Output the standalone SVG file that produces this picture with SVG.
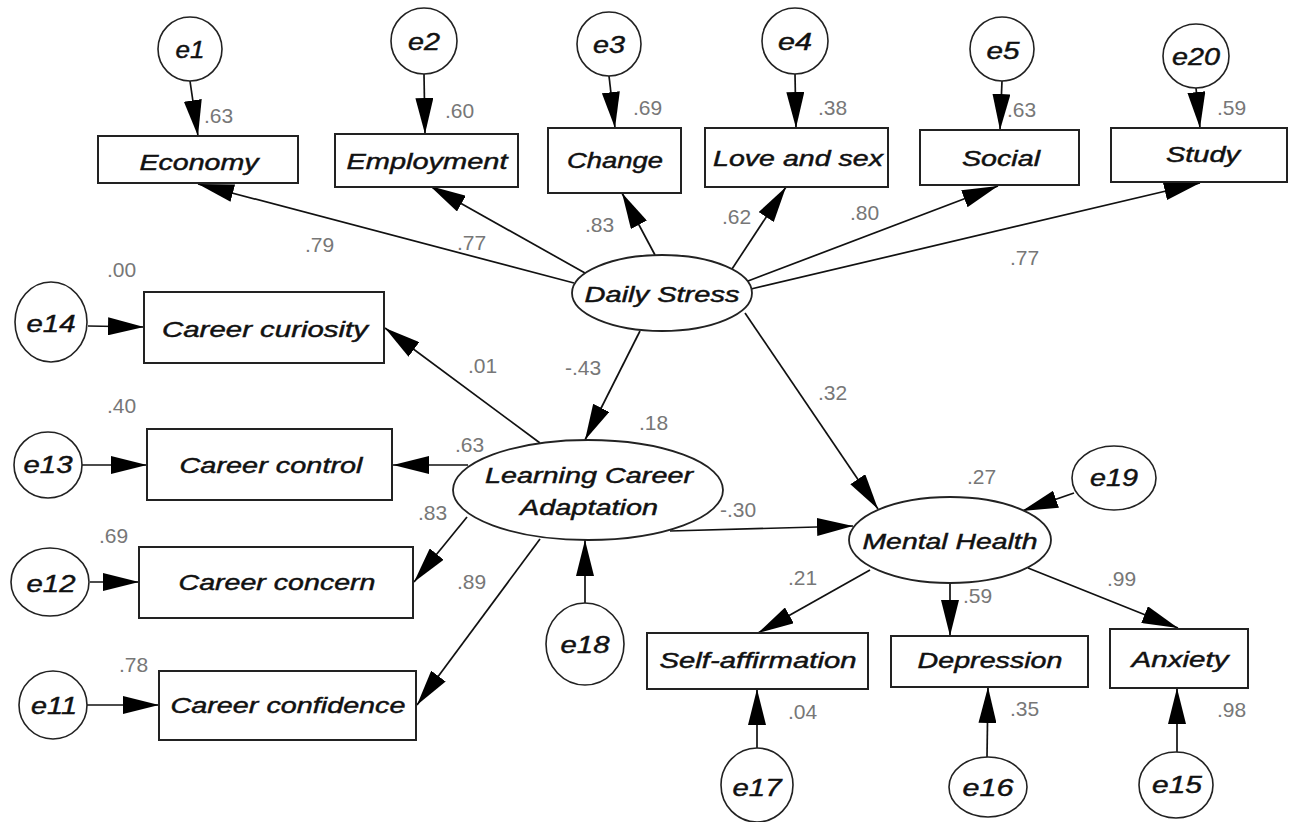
<svg xmlns="http://www.w3.org/2000/svg" width="1292" height="822" viewBox="0 0 1292 822">
<style>
.box{fill:#fff;stroke:#222;stroke-width:2}
.lat{fill:#fff;stroke:#222;stroke-width:1.8}
.err{fill:#fff;stroke:#222;stroke-width:1.6}
.lbl{font-family:"Liberation Sans",Arial,sans-serif;font-style:italic;font-size:22px;fill:#111;stroke:#111;stroke-width:0.45;text-anchor:middle}
.elbl{font-family:"Liberation Sans",Arial,sans-serif;font-style:italic;font-size:24px;fill:#111;stroke:#111;stroke-width:0.45;text-anchor:middle}
.num{font-family:"Liberation Sans",Arial,sans-serif;font-size:21px;fill:#777}
.con line{stroke:#111;stroke-width:1.7;marker-end:url(#ah)}
</style>
<defs>
<marker id="ah" markerUnits="userSpaceOnUse" markerWidth="36" markerHeight="18" refX="36" refY="9" orient="auto">
<path d="M0,0 L36,9 L0,18 Z" fill="#000"/>
</marker>
</defs>
<rect width="1292" height="822" fill="#fff"/>

<g id="connectors" class="con">
<line x1="190" y1="81" x2="198" y2="136"/>
<line x1="424" y1="74" x2="425" y2="134"/>
<line x1="609" y1="76" x2="615" y2="128"/>
<line x1="795" y1="74" x2="796" y2="128"/>
<line x1="1002" y1="81" x2="1000" y2="130"/>
<line x1="1196" y1="88" x2="1200" y2="128"/>
<line x1="574" y1="283" x2="198" y2="184"/>
<line x1="585" y1="273" x2="430" y2="186"/>
<line x1="655" y1="255" x2="622" y2="193"/>
<line x1="732" y1="269" x2="786" y2="187"/>
<line x1="748" y1="281" x2="998" y2="186"/>
<line x1="751" y1="289" x2="1200" y2="183"/>
<line x1="640" y1="331" x2="585" y2="440"/>
<line x1="745" y1="313" x2="878" y2="509"/>
<line x1="540" y1="443" x2="385" y2="328"/>
<line x1="468" y1="465" x2="393" y2="465"/>
<line x1="467" y1="517" x2="414" y2="582"/>
<line x1="540" y1="539" x2="417" y2="705"/>
<line x1="585" y1="603" x2="585" y2="540"/>
<line x1="670" y1="531" x2="853" y2="526"/>
<line x1="1074" y1="493" x2="1022" y2="511"/>
<line x1="870" y1="570" x2="758" y2="633"/>
<line x1="950" y1="583" x2="950" y2="636"/>
<line x1="1028" y1="568" x2="1178" y2="628"/>
<line x1="757" y1="748" x2="757" y2="689"/>
<line x1="987" y1="757" x2="988" y2="687"/>
<line x1="1177" y1="752" x2="1177" y2="688"/>
<line x1="88" y1="326" x2="144" y2="327"/>
<line x1="82" y1="465" x2="147" y2="465"/>
<line x1="90" y1="582" x2="139" y2="582"/>
<line x1="87" y1="705" x2="159" y2="705"/>
</g>

<g id="economy"><rect class="box" x="98" y="136" width="200" height="47"/><text class="lbl" x="199" y="170" textLength="119" lengthAdjust="spacingAndGlyphs">Economy</text></g>
<g id="employment"><rect class="box" x="335" y="134" width="183" height="53"/><text class="lbl" x="427" y="169" textLength="161" lengthAdjust="spacingAndGlyphs">Employment</text></g>
<g id="change"><rect class="box" x="548" y="128" width="133" height="65"/><text class="lbl" x="615" y="168" textLength="96" lengthAdjust="spacingAndGlyphs">Change</text></g>
<g id="love"><rect class="box" x="705" y="128" width="183" height="59"/><text class="lbl" x="798" y="166" textLength="170" lengthAdjust="spacingAndGlyphs">Love and sex</text></g>
<g id="social"><rect class="box" x="920" y="130" width="159" height="55"/><text class="lbl" x="1001" y="166" textLength="78" lengthAdjust="spacingAndGlyphs">Social</text></g>
<g id="study"><rect class="box" x="1111" y="128" width="176" height="54"/><text class="lbl" x="1203" y="162" textLength="74" lengthAdjust="spacingAndGlyphs">Study</text></g>

<g id="career-curiosity"><rect class="box" x="144" y="292" width="240" height="71"/><text class="lbl" x="265" y="337" textLength="206" lengthAdjust="spacingAndGlyphs">Career curiosity</text></g>
<g id="career-control"><rect class="box" x="147" y="429" width="245" height="71"/><text class="lbl" x="271" y="473" textLength="183" lengthAdjust="spacingAndGlyphs">Career control</text></g>
<g id="career-concern"><rect class="box" x="139" y="547" width="274" height="71"/><text class="lbl" x="277" y="590" textLength="197" lengthAdjust="spacingAndGlyphs">Career concern</text></g>
<g id="career-confidence"><rect class="box" x="159" y="671" width="257" height="69"/><text class="lbl" x="288" y="713" textLength="235" lengthAdjust="spacingAndGlyphs">Career confidence</text></g>

<g id="self-affirmation"><rect class="box" x="647" y="633" width="221" height="56"/><text class="lbl" x="758" y="668" textLength="197" lengthAdjust="spacingAndGlyphs">Self-affirmation</text></g>
<g id="depression"><rect class="box" x="891" y="636" width="197" height="51"/><text class="lbl" x="990" y="668" textLength="145" lengthAdjust="spacingAndGlyphs">Depression</text></g>
<g id="anxiety"><rect class="box" x="1110" y="629" width="138" height="59"/><text class="lbl" x="1180" y="667" textLength="97" lengthAdjust="spacingAndGlyphs">Anxiety</text></g>

<g id="daily-stress"><ellipse class="lat" cx="662" cy="293" rx="90" ry="38"/><text class="lbl" x="662" y="302" textLength="155" lengthAdjust="spacingAndGlyphs">Daily Stress</text></g>
<g id="learning-career-adaptation"><ellipse class="lat" cx="588" cy="490" rx="135" ry="50"/><text class="lbl" x="589" y="483" textLength="208" lengthAdjust="spacingAndGlyphs">Learning Career</text><text class="lbl" x="589" y="515" textLength="138" lengthAdjust="spacingAndGlyphs">Adaptation</text></g>
<g id="mental-health"><ellipse class="lat" cx="950" cy="540" rx="101" ry="43"/><text class="lbl" x="950" y="549" textLength="175" lengthAdjust="spacingAndGlyphs">Mental Health</text></g>

<g id="e1"><ellipse class="err" cx="190" cy="49" rx="32" ry="32"/><text class="elbl" x="190" y="58" textLength="29" lengthAdjust="spacingAndGlyphs">e1</text></g>
<g id="e2"><ellipse class="err" cx="424" cy="41" rx="33" ry="33"/><text class="elbl" x="424" y="50" textLength="32" lengthAdjust="spacingAndGlyphs">e2</text></g>
<g id="e3"><ellipse class="err" cx="609" cy="44" rx="32" ry="32"/><text class="elbl" x="609" y="53" textLength="32" lengthAdjust="spacingAndGlyphs">e3</text></g>
<g id="e4"><ellipse class="err" cx="795" cy="41" rx="33" ry="33"/><text class="elbl" x="795" y="50" textLength="34" lengthAdjust="spacingAndGlyphs">e4</text></g>
<g id="e5"><ellipse class="err" cx="1002" cy="49" rx="32" ry="32"/><text class="elbl" x="1003" y="59" textLength="33" lengthAdjust="spacingAndGlyphs">e5</text></g>
<g id="e20"><ellipse class="err" cx="1196" cy="56" rx="33" ry="32"/><text class="elbl" x="1196" y="65" textLength="48" lengthAdjust="spacingAndGlyphs">e20</text></g>
<g id="e14"><ellipse class="err" cx="51" cy="322" rx="36" ry="40"/><text class="elbl" x="51" y="332" textLength="49" lengthAdjust="spacingAndGlyphs">e14</text></g>
<g id="e13"><ellipse class="err" cx="48" cy="465" rx="34" ry="33"/><text class="elbl" x="48" y="473" textLength="49" lengthAdjust="spacingAndGlyphs">e13</text></g>
<g id="e12"><ellipse class="err" cx="50" cy="582" rx="39" ry="34"/><text class="elbl" x="51" y="592" textLength="49" lengthAdjust="spacingAndGlyphs">e12</text></g>
<g id="e11"><ellipse class="err" cx="53" cy="705" rx="34" ry="34"/><text class="elbl" x="54" y="714" textLength="46" lengthAdjust="spacingAndGlyphs">e11</text></g>
<g id="e18"><ellipse class="err" cx="585" cy="644" rx="39" ry="41"/><text class="elbl" x="585" y="653" textLength="49" lengthAdjust="spacingAndGlyphs">e18</text></g>
<g id="e19"><ellipse class="err" cx="1114" cy="478" rx="42" ry="32"/><text class="elbl" x="1114" y="486" textLength="48" lengthAdjust="spacingAndGlyphs">e19</text></g>
<g id="e17"><ellipse class="err" cx="757" cy="785" rx="36" ry="37"/><text class="elbl" x="757" y="796" textLength="49" lengthAdjust="spacingAndGlyphs">e17</text></g>
<g id="e16"><ellipse class="err" cx="988" cy="787" rx="39" ry="30"/><text class="elbl" x="988" y="796" textLength="51" lengthAdjust="spacingAndGlyphs">e16</text></g>
<g id="e15"><ellipse class="err" cx="1176" cy="785" rx="37" ry="33"/><text class="elbl" x="1177" y="793" textLength="50" lengthAdjust="spacingAndGlyphs">e15</text></g>

<g id="coefficients">
<text class="num" x="204" y="123">.63</text>
<text class="num" x="445" y="118">.60</text>
<text class="num" x="633" y="115">.69</text>
<text class="num" x="818" y="115">.38</text>
<text class="num" x="1007" y="117">.63</text>
<text class="num" x="1217" y="115">.59</text>
<text class="num" x="305" y="252">.79</text>
<text class="num" x="457" y="250">.77</text>
<text class="num" x="585" y="232">.83</text>
<text class="num" x="722" y="224">.62</text>
<text class="num" x="850" y="220">.80</text>
<text class="num" x="1010" y="265">.77</text>
<text class="num" x="107" y="277">.00</text>
<text class="num" x="107" y="413">.40</text>
<text class="num" x="99" y="543">.69</text>
<text class="num" x="119" y="672">.78</text>
<text class="num" x="468" y="373">.01</text>
<text class="num" x="565" y="375">-.43</text>
<text class="num" x="639" y="430">.18</text>
<text class="num" x="818" y="400">.32</text>
<text class="num" x="455" y="452">.63</text>
<text class="num" x="418" y="520">.83</text>
<text class="num" x="457" y="589">.89</text>
<text class="num" x="720" y="517">-.30</text>
<text class="num" x="967" y="484">.27</text>
<text class="num" x="788" y="585">.21</text>
<text class="num" x="963" y="603">.59</text>
<text class="num" x="1107" y="586">.99</text>
<text class="num" x="788" y="719">.04</text>
<text class="num" x="1010" y="716">.35</text>
<text class="num" x="1217" y="717">.98</text>
</g>
</svg>
